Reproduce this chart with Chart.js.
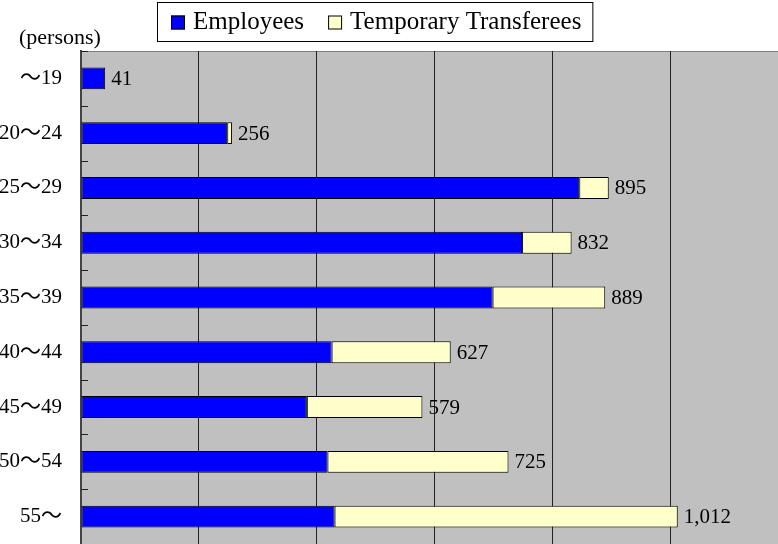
<!DOCTYPE html>
<html><head><meta charset="utf-8">
<script src="https://cdn.jsdelivr.net/npm/chart.js@4/dist/chart.umd.min.js"></script>
<style>html,body{margin:0;padding:0;background:#fff;overflow:hidden}#wrap{width:778px;height:544px;position:relative}</style>
</head><body><div id="wrap"><canvas id="c" width="778" height="544"></canvas></div>
<script>
const categories = ['～19','20～24','25～29','30～34','35～39','40～44','45～49','50～54','55～'];
const employees = [41, 248, 845, 748, 698, 425, 383, 418, 430];
const temporaryTransferees = [0, 8, 50, 84, 191, 202, 196, 307, 582];
const totalLabels = ['41','256','895','832','889','627','579','725','1,012'];
const seriesNames = ['Employees', 'Temporary Transferees'];
const unitLabel = '(persons)';
const xTickValues = [0, 200, 400, 600, 800, 1000];
const xMax = 1182;

const FONT = "'Liberation Serif', 'Noto Sans CJK JP', serif";
const colors = ['#0000FF', '#FFFFCC'];

const plotBg = {
  id: 'plotBg',
  beforeDraw(chart) {
    const {ctx, chartArea: a} = chart;
    ctx.save();
    ctx.fillStyle = '#C0C0C0';
    ctx.fillRect(a.left, a.top, a.right - a.left, a.bottom - a.top);
    ctx.strokeStyle = '#808080';
    ctx.lineWidth = 1;
    ctx.beginPath();
    ctx.moveTo(a.left, a.top + 0.5);
    ctx.lineTo(a.right, a.top + 0.5);
    ctx.stroke();
    ctx.restore();
  }
};

const insideTicks = {
  id: 'insideTicks',
  afterDraw(chart) {
    const {ctx, chartArea: a} = chart;
    const ys = chart.scales.y;
    const n = categories.length;
    ctx.save();
    ctx.strokeStyle = '#222';
    ctx.lineWidth = 1;
    ctx.beginPath();
    for (let i = 0; i <= n; i++) {
      let y;
      if (i === 0) y = a.top;
      else if (i === n) y = a.bottom;
      else y = (ys.getPixelForValue(i - 1) + ys.getPixelForValue(i)) / 2;
      y = Math.round(y) + 0.5;
      ctx.moveTo(a.left, y);
      ctx.lineTo(a.left + 7, y);
    }
    ctx.stroke();
    ctx.restore();
  }
};

const valueLabels = {
  id: 'valueLabels',
  afterDatasetsDraw(chart) {
    const {ctx} = chart;
    const meta = chart.getDatasetMeta(chart.data.datasets.length - 1);
    ctx.save();
    ctx.font = '21px ' + FONT;
    ctx.fillStyle = '#000';
    ctx.textAlign = 'left';
    ctx.textBaseline = 'middle';
    meta.data.forEach((el, i) => {
      ctx.fillText(totalLabels[i], el.x + 6, el.y + 1);
    });
    ctx.restore();
  }
};

const boxLegend = {
  id: 'boxLegend',
  afterDraw(chart) {
    const {ctx} = chart;
    ctx.save();
    ctx.font = '25px ' + FONT;
    ctx.textBaseline = 'middle';
    const boxL = 157, boxT = 2, boxH = 39;
    let x = boxL + 14;
    const cy = boxT + boxH / 2 + 1;
    chart.data.datasets.forEach((ds, i) => {
      ctx.fillStyle = ds.backgroundColor;
      ctx.fillRect(x, cy - 7, 14, 14);
      ctx.strokeStyle = '#000';
      ctx.lineWidth = 1;
      ctx.strokeRect(x + 0.5, cy - 6.5, 13, 13);
      x += 14 + 8;
      ctx.fillStyle = '#000';
      ctx.fillText(ds.label, x, cy);
      x += ctx.measureText(ds.label).width;
      if (i < chart.data.datasets.length - 1) x += 24;
    });
    const boxR = x + 11;
    ctx.strokeStyle = '#000';
    ctx.lineWidth = 1;
    ctx.strokeRect(boxL + 0.5, boxT + 0.5, boxR - boxL, boxH);
    ctx.font = '22px ' + FONT;
    ctx.textBaseline = 'middle';
    ctx.fillText(unitLabel, 19, 38);
    ctx.restore();
  }
};

new Chart(document.getElementById('c'), {
  type: 'bar',
  data: {
    labels: categories,
    datasets: [
      { label: seriesNames[0], data: employees, backgroundColor: colors[0], borderColor: '#000', borderWidth: 1, borderSkipped: false, barPercentage: 0.4, categoryPercentage: 1 },
      { label: seriesNames[1], data: temporaryTransferees, backgroundColor: colors[1], borderColor: '#000', borderWidth: 1, borderSkipped: false, barPercentage: 0.4, categoryPercentage: 1 }
    ]
  },
  options: {
    indexAxis: 'y',
    responsive: false,
    animation: false,
    devicePixelRatio: 1,
    layout: { padding: { top: 51, left: 0, right: 0, bottom: -2 } },
    plugins: { legend: { display: false }, tooltip: { enabled: false }, title: { display: false } },
    scales: {
      x: {
        stacked: true, min: 0, max: xMax, bounds: 'data', position: 'bottom',
        ticks: { display: false },
        afterBuildTicks(s) { s.ticks = xTickValues.map(v => ({ value: v })); },
        grid: { color: '#222', lineWidth: 1, drawTicks: false },
        border: { display: false },
        afterFit(s) { s.height = 0; s.paddingLeft = 0; s.paddingRight = 0; }
      },
      y: {
        stacked: true,
        ticks: { font: { family: FONT, size: 21 }, color: '#000', padding: 19 },
        grid: { display: false, drawTicks: false },
        border: { display: true, color: '#444', width: 2 },
        afterFit(s) { s.width = 81; s.paddingTop = 0; s.paddingBottom = 0; }
      }
    }
  },
  plugins: [plotBg, insideTicks, valueLabels, boxLegend]
});
</script>
</body></html>
